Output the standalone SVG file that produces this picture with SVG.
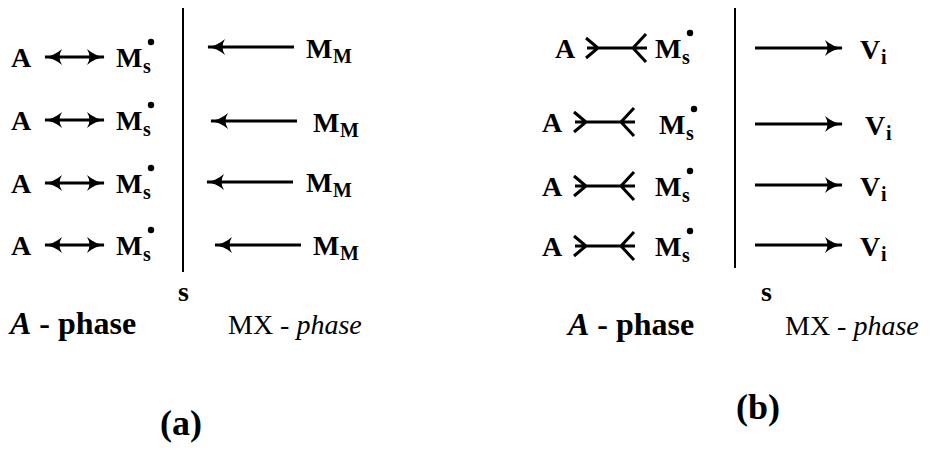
<svg xmlns="http://www.w3.org/2000/svg" width="941" height="466" viewBox="0 0 941 466">
<style>
text{font-family:'Liberation Serif','Times New Roman','Nimbus Roman','DejaVu Serif',serif;fill:#000}
.t{font-weight:bold;font-size:28px}
.sub{font-weight:bold;font-size:20px}
.ln{stroke:#000;stroke-width:3;fill:none}
.bar{stroke:#000;stroke-width:2;fill:none}
.lb{font-size:32px;font-weight:bold}
.lr{font-size:28px}
.cap{font-weight:bold;font-size:36px}
</style>
<defs>
<marker id="ah" markerUnits="userSpaceOnUse" markerWidth="18" markerHeight="18" viewBox="0 0 18 18" refX="17" refY="9" orient="auto-start-reverse">
<path d="M0,1 Q8,8 18,9 Q8,10 0,17 Q5,9 0,1 Z" fill="#000"/>
</marker>
</defs>
<g id="divider-a"><line class="bar" x1="183" y1="8" x2="183" y2="272"/></g>
<g id="divider-b"><line class="bar" x1="735" y1="8" x2="735" y2="268"/></g>
<g id="connectors">
<line class="ln" x1="45" y1="57" x2="104" y2="57" marker-start="url(#ah)" marker-end="url(#ah)"/>
<line class="ln" x1="45" y1="120" x2="104" y2="120" marker-start="url(#ah)" marker-end="url(#ah)"/>
<line class="ln" x1="45" y1="183" x2="104" y2="183" marker-start="url(#ah)" marker-end="url(#ah)"/>
<line class="ln" x1="45" y1="245" x2="104" y2="245" marker-start="url(#ah)" marker-end="url(#ah)"/>
<line class="ln" x1="294" y1="47" x2="208" y2="47" marker-end="url(#ah)"/>
<line class="ln" x1="297" y1="121" x2="211" y2="121" marker-end="url(#ah)"/>
<line class="ln" x1="293" y1="182" x2="207" y2="182" marker-end="url(#ah)"/>
<line class="ln" x1="301" y1="245" x2="215" y2="245" marker-end="url(#ah)"/>
<line class="ln" x1="755" y1="48" x2="842" y2="48" marker-end="url(#ah)"/>
<line class="ln" x1="755" y1="124" x2="842" y2="124" marker-end="url(#ah)"/>
<line class="ln" x1="755" y1="185" x2="842" y2="185" marker-end="url(#ah)"/>
<line class="ln" x1="755" y1="245" x2="842" y2="245" marker-end="url(#ah)"/>
<path class="ln" d="M587,48 H647 M586,38 L598,48 L586,58 M646,34 L633,48 L646,62"/>
<path class="ln" d="M575,122 H635 M574,112 L586,122 L574,132 M634,108 L621,122 L634,136"/>
<path class="ln" d="M575,186 H635 M574,176 L586,186 L574,196 M634,172 L621,186 L634,200"/>
<path class="ln" d="M575,246 H635 M574,236 L586,246 L574,256 M634,232 L621,246 L634,260"/>
</g>
<g id="row-a1"><text class="t" x="11" y="67">A</text><text class="t" x="116" y="67">M</text><circle cx="151" cy="42" r="3.2"/><text class="sub" x="143" y="73">s</text><text class="t" x="306" y="58">M</text><text class="sub" x="333" y="63">M</text></g>
<g id="row-a2"><text class="t" x="11" y="130">A</text><text class="t" x="116" y="130">M</text><circle cx="151" cy="105" r="3.2"/><text class="sub" x="143" y="136">s</text><text class="t" x="313" y="132">M</text><text class="sub" x="340" y="137">M</text></g>
<g id="row-a3"><text class="t" x="11" y="193">A</text><text class="t" x="116" y="193">M</text><circle cx="151" cy="168" r="3.2"/><text class="sub" x="143" y="199">s</text><text class="t" x="306" y="192">M</text><text class="sub" x="333" y="197">M</text></g>
<g id="row-a4"><text class="t" x="11" y="255">A</text><text class="t" x="116" y="255">M</text><circle cx="151" cy="230" r="3.2"/><text class="sub" x="143" y="261">s</text><text class="t" x="313" y="255">M</text><text class="sub" x="340" y="260">M</text></g>
<g id="row-b1"><text class="t" x="555" y="58">A</text><text class="t" x="655" y="58">M</text><circle cx="690" cy="33" r="3.2"/><text class="sub" x="682" y="64">s</text><text class="t" x="860" y="59">V</text><text class="sub" x="881" y="64">i</text></g>
<g id="row-b2"><text class="t" x="542" y="132">A</text><text class="t" x="659" y="134">M</text><circle cx="694" cy="109" r="3.2"/><text class="sub" x="686" y="140">s</text><text class="t" x="865" y="135">V</text><text class="sub" x="886" y="140">i</text></g>
<g id="row-b3"><text class="t" x="542" y="196">A</text><text class="t" x="655" y="196">M</text><circle cx="690" cy="171" r="3.2"/><text class="sub" x="682" y="202">s</text><text class="t" x="860" y="196">V</text><text class="sub" x="881" y="201">i</text></g>
<g id="row-b4"><text class="t" x="542" y="256">A</text><text class="t" x="655" y="256">M</text><circle cx="690" cy="231" r="3.2"/><text class="sub" x="682" y="262">s</text><text class="t" x="860" y="256">V</text><text class="sub" x="881" y="261">i</text></g>
<g id="labels-a">
<text class="t" x="178" y="301">s</text>
<text class="lb" x="10" y="334"><tspan font-style="italic">A</tspan> - phase</text>
<text class="lr" x="228" y="334">MX - <tspan font-style="italic">phase</tspan></text>
<text class="cap" x="160" y="435">(a)</text>
</g>
<g id="labels-b">
<text class="t" x="761" y="301">s</text>
<text class="lb" x="568" y="335"><tspan font-style="italic">A</tspan> - phase</text>
<text class="lr" x="785" y="335">MX - <tspan font-style="italic">phase</tspan></text>
<text class="cap" x="736" y="419">(b)</text>
</g>
</svg>
